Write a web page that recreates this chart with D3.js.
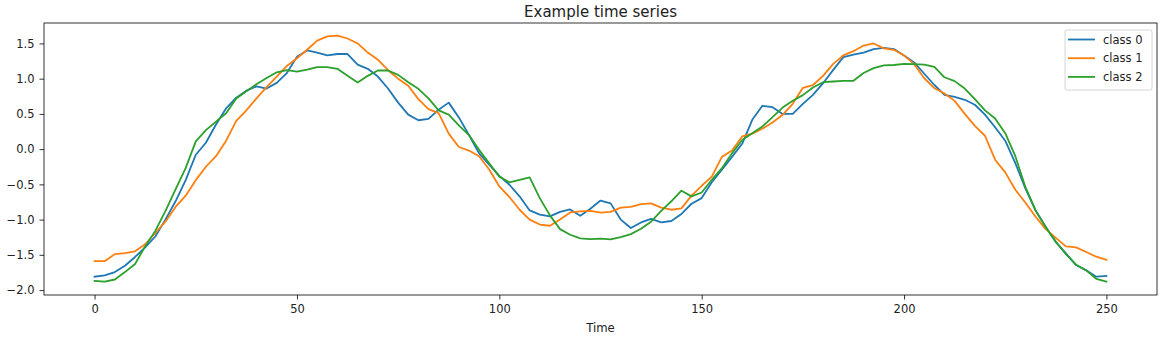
<!DOCTYPE html>
<html>
<head>
<meta charset="utf-8">
<script src="https://cdn.jsdelivr.net/npm/d3@7"></script>
<style>
  html, body { margin: 0; padding: 0; background: #fff; }
  svg { display: block; font-family: "DejaVu Sans", sans-serif; }
</style>
</head>
<body>
<svg id="chart" width="1169" height="343"></svg>
<script>
// ---- data ----
const timeSteps = [0,2.5,5,7.5,10,12.5,15,17.5,20,22.5,25,27.5,30,32.5,35,37.5,40,42.5,45,47.5,
  50,52.5,55,57.5,60,62.5,65,67.5,70,72.5,75,77.5,80,82.5,85,87.5,90,92.5,95,97.5,
  100,102.5,105,107.5,110,112.5,115,117.5,120,122.5,125,127.5,130,132.5,135,137.5,140,142.5,145,147.5,
  150,152.5,155,157.5,160,162.5,165,167.5,170,172.5,175,177.5,180,182.5,185,187.5,190,192.5,195,197.5,
  200,202.5,205,207.5,210,212.5,215,217.5,220,222.5,225,227.5,230,232.5,235,237.5,240,242.5,245,247.5,250];

const class0 = [-1.81,-1.79,-1.745,-1.655,-1.53,-1.395,-1.24,-1.00,-0.74,-0.44,-0.08,0.09,0.35,0.58,0.73,0.83,0.89,0.86,0.94,1.08,
  1.31,1.40,1.37,1.33,1.35,1.35,1.20,1.14,1.03,0.86,0.66,0.49,0.41,0.43,0.56,0.66,0.45,0.20,-0.06,-0.22,
  -0.38,-0.505,-0.67,-0.87,-0.93,-0.955,-0.89,-0.856,-0.946,-0.846,-0.73,-0.77,-1.00,-1.12,-1.04,-0.99,-1.04,-1.02,-0.92,-0.775,
  -0.695,-0.47,-0.29,-0.11,0.076,0.416,0.615,0.596,0.50,0.50,0.643,0.77,0.936,1.125,1.305,1.34,1.37,1.42,1.437,1.42,
  1.33,1.23,1.07,0.91,0.77,0.74,0.70,0.63,0.49,0.31,0.12,-0.20,-0.56,-0.87,-1.10,-1.32,-1.48,-1.645,-1.72,-1.81,-1.80];

const class1 = [-1.59,-1.59,-1.49,-1.475,-1.45,-1.35,-1.19,-1.03,-0.82,-0.66,-0.44,-0.25,-0.10,0.12,0.40,0.55,0.72,0.88,1.03,1.18,
  1.29,1.41,1.54,1.60,1.61,1.57,1.50,1.37,1.27,1.12,1.00,0.90,0.71,0.567,0.51,0.22,0.03,-0.02,-0.10,-0.29,
  -0.53,-0.68,-0.86,-1.00,-1.07,-1.087,-1.00,-0.898,-0.884,-0.875,-0.90,-0.89,-0.83,-0.82,-0.78,-0.77,-0.83,-0.86,-0.84,-0.66,
  -0.52,-0.39,-0.11,-0.02,0.18,0.22,0.29,0.378,0.487,0.643,0.87,0.91,1.04,1.21,1.33,1.39,1.47,1.50,1.43,1.41,
  1.33,1.206,1.006,0.865,0.79,0.685,0.50,0.33,0.19,-0.15,-0.33,-0.577,-0.76,-0.96,-1.135,-1.26,-1.38,-1.395,-1.46,-1.527,-1.57];

const class2 = [-1.87,-1.88,-1.85,-1.745,-1.63,-1.38,-1.16,-0.88,-0.57,-0.27,0.11,0.27,0.39,0.51,0.72,0.82,0.92,1.01,1.09,1.12,
  1.10,1.13,1.165,1.165,1.14,1.04,0.946,1.04,1.116,1.116,1.054,0.95,0.856,0.72,0.55,0.49,0.336,0.20,-0.01,-0.20,
  -0.39,-0.47,-0.435,-0.40,-0.695,-0.94,-1.135,-1.215,-1.267,-1.277,-1.27,-1.28,-1.25,-1.206,-1.13,-1.03,-0.875,-0.74,-0.59,-0.67,
  -0.615,-0.435,-0.27,-0.06,0.13,0.227,0.32,0.454,0.59,0.686,0.766,0.875,0.95,0.96,0.97,0.97,1.08,1.15,1.19,1.194,
  1.21,1.206,1.20,1.168,1.02,0.965,0.86,0.71,0.55,0.435,0.227,-0.10,-0.54,-0.87,-1.11,-1.31,-1.49,-1.64,-1.72,-1.84,-1.88];

const seriesNames = ["class 0", "class 1", "class 2"];
const seriesColors = ["#1f77b4", "#ff7f0e", "#2ca02c"];
const xTicks = [0, 50, 100, 150, 200, 250];
const yTicks = [-2.0, -1.5, -1.0, -0.5, 0.0, 0.5, 1.0, 1.5];
const titleText = "Example time series";
const xLabelText = "Time";

// ---- layout ----
(function () {
const svg = d3.select("#chart");
const mLeft = 44, mRight = 1157, mTop = 23, mBottom = 295;

const x = d3.scaleLinear().domain([-12.5, 262.5]).range([mLeft, mRight]);
const y = d3.scaleLinear().domain([-2.07, 1.79]).range([mBottom, mTop]);

const fmt = v => d3.format(".1f")(v).replace("-", "\u2212");

// axes
const xAxis = svg.append("g")
  .attr("transform", `translate(0,${mBottom})`)
  .call(d3.axisBottom(x).tickValues(xTicks).tickSize(4.5).tickPadding(5).tickFormat(d3.format("d")));
const yAxis = svg.append("g")
  .attr("transform", `translate(${mLeft},0)`)
  .call(d3.axisLeft(y).tickValues(yTicks).tickSize(4.5).tickPadding(5).tickFormat(fmt));

[xAxis, yAxis].forEach(g => {
  g.select(".domain").remove();
  g.selectAll(".tick line").attr("stroke", "#000").attr("stroke-width", 0.8);
  g.selectAll(".tick text").attr("fill", "#222").style("font-size", "11.5px")
    .style("font-family", "DejaVu Sans, sans-serif");
});

// lines
const data = [class0, class1, class2];
const line = d3.line().x((d, i) => x(timeSteps[i])).y(d => y(d));
svg.append("defs").append("clipPath").attr("id", "clip")
  .append("rect").attr("x", mLeft).attr("y", mTop).attr("width", mRight - mLeft).attr("height", mBottom - mTop);
const plot = svg.append("g").attr("clip-path", "url(#clip)");
data.forEach((vals, k) => {
  plot.append("path")
    .datum(vals)
    .attr("fill", "none")
    .attr("stroke", seriesColors[k])
    .attr("stroke-width", 1.8)
    .attr("stroke-linejoin", "round")
    .attr("stroke-linecap", "square")
    .attr("d", line);
});

// frame
svg.append("rect")
  .attr("x", mLeft).attr("y", mTop)
  .attr("width", mRight - mLeft).attr("height", mBottom - mTop)
  .attr("fill", "none").attr("stroke", "#000").attr("stroke-width", 0.8);

// title and label
svg.append("text")
  .attr("x", (mLeft + mRight) / 2).attr("y", 17)
  .attr("text-anchor", "middle")
  .attr("fill", "#222")
  .style("font-size", "15px")
  .text(titleText);
svg.append("text")
  .attr("x", (mLeft + mRight) / 2).attr("y", 332)
  .attr("text-anchor", "middle")
  .attr("fill", "#222")
  .style("font-size", "11.7px")
  .text(xLabelText);

// legend
const lg = svg.append("g").attr("transform", "translate(1065,30)");
lg.append("rect")
  .attr("x", 0).attr("y", 0).attr("width", 87).attr("height", 60)
  .attr("rx", 2).attr("fill", "#fff").attr("fill-opacity", 0.8)
  .attr("stroke", "#ccc").attr("stroke-width", 0.8);
seriesNames.forEach((name, k) => {
  const yy = 9.5 + k * 18.7;
  lg.append("line")
    .attr("x1", 3).attr("x2", 30).attr("y1", yy).attr("y2", yy)
    .attr("stroke", seriesColors[k]).attr("stroke-width", 1.8);
  lg.append("text")
    .attr("x", 38).attr("y", yy + 4)
    .attr("fill", "#222")
    .style("font-size", "11.5px")
    .text(name);
});
})();
</script>
</body>
</html>
